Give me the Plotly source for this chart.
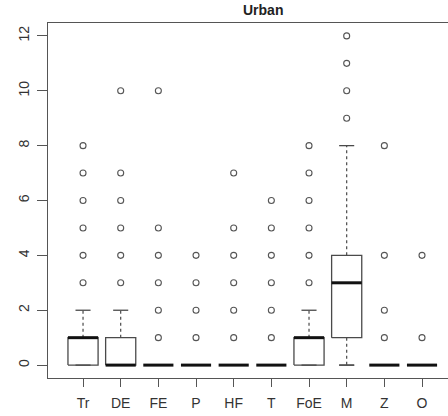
import plotly.graph_objects as go

# Boxplot summary for the "Urban" sample
categories = ["Tr", "DE", "FE", "P", "HF", "T", "FoE", "M", "Z", "O"]
q1 = [0, 0, 0, 0, 0, 0, 0, 1, 0, 0]
median = [1, 0, 0, 0, 0, 0, 1, 3, 0, 0]
q3 = [1, 1, 0, 0, 0, 0, 1, 4, 0, 0]
whisker_low = [0, 0, 0, 0, 0, 0, 0, 0, 0, 0]
whisker_high = [2, 2, 0, 0, 0, 0, 2, 8, 0, 0]
outliers = [
    [3, 4, 5, 6, 7, 8],
    [3, 4, 5, 6, 7, 10],
    [1, 2, 3, 4, 5, 10],
    [1, 2, 3, 4],
    [1, 2, 3, 4, 5, 7],
    [1, 2, 3, 4, 5, 6],
    [3, 4, 5, 6, 7, 8],
    [9, 10, 11, 12],
    [1, 2, 4, 8],
    [1, 4],
]
y_ticks = [0, 2, 4, 6, 8, 10, 12]

HALF_BOX = 0.4
HALF_STAPLE = 0.2
LINE = "#4a4a4a"

positions = list(range(1, len(categories) + 1))

box_x, box_y = [], []
med_x, med_y = [], []
wh_x, wh_y = [], []
st_x, st_y = [], []
out_x, out_y = [], []

for i, p in enumerate(positions):
    l, r = p - HALF_BOX, p + HALF_BOX
    if q3[i] > q1[i]:
        box_x += [l, r, r, l, l, None]
        box_y += [q1[i], q1[i], q3[i], q3[i], q1[i], None]
    med_x += [l, r, None]
    med_y += [median[i], median[i], None]
    if whisker_high[i] > q3[i]:
        wh_x += [p, p, None]
        wh_y += [q3[i], whisker_high[i], None]
        st_x += [p - HALF_STAPLE, p + HALF_STAPLE, None]
        st_y += [whisker_high[i], whisker_high[i], None]
    if whisker_low[i] < q1[i]:
        wh_x += [p, p, None]
        wh_y += [q1[i], whisker_low[i], None]
        st_x += [p - HALF_STAPLE, p + HALF_STAPLE, None]
        st_y += [whisker_low[i], whisker_low[i], None]
    if q3[i] > q1[i] and whisker_high[i] > q3[i]:
        st_x += [p - HALF_STAPLE, p + HALF_STAPLE, None]
        st_y += [whisker_low[i], whisker_low[i], None]
    out_x += [p] * len(outliers[i])
    out_y += outliers[i]

fig = go.Figure()
fig.add_trace(go.Scatter(x=wh_x, y=wh_y, mode="lines",
                         line=dict(color=LINE, width=1.2, dash="3px,3px"),
                         hoverinfo="skip"))
fig.add_trace(go.Scatter(x=st_x, y=st_y, mode="lines",
                         line=dict(color=LINE, width=1.3), hoverinfo="skip"))
fig.add_trace(go.Scatter(x=box_x, y=box_y, mode="lines",
                         line=dict(color=LINE, width=1.3), hoverinfo="skip"))
fig.add_trace(go.Scatter(x=med_x, y=med_y, mode="lines",
                         line=dict(color="#111111", width=3), hoverinfo="skip"))
fig.add_trace(go.Scatter(x=out_x, y=out_y, mode="markers",
                         marker=dict(symbol="circle-open", size=6,
                                     color="#555555", line=dict(width=1.1))))

fig.update_layout(
    width=448, height=416,
    margin=dict(l=48, r=0, t=23, b=38),
    plot_bgcolor="white", paper_bgcolor="white",
    showlegend=False,
    font=dict(family="Liberation Sans, Arial, sans-serif", color="#333333"),
    annotations=[dict(text="<b>Urban</b>", x=0.5375, y=1, xref="paper", yref="paper",
                      yanchor="bottom", yshift=3, showarrow=False,
                      font=dict(size=14, color="#222222"))],
)
fig.update_xaxes(
    range=[0.07, 10.69], tickvals=positions, ticktext=categories,
    showgrid=False, zeroline=False, showline=True, mirror=True,
    linecolor="#555555", linewidth=1.3,
    ticks="outside", ticklen=8, tickcolor="#555555", tickwidth=1.2,
    ticklabelstandoff=4,
    tickfont=dict(size=14, color="#333333"),
)
fig.update_yaxes(
    range=[-0.47, 12.47], tickvals=y_ticks,
    showgrid=False, zeroline=False, showline=True,
    linecolor="#555555", linewidth=1.3,
    ticks="outside", ticklen=10, tickcolor="#555555", tickwidth=1.2,
    ticklabelstandoff=2,
    tickangle=-90, tickfont=dict(size=14, color="#333333"),
)

fig.write_html("out.html")
